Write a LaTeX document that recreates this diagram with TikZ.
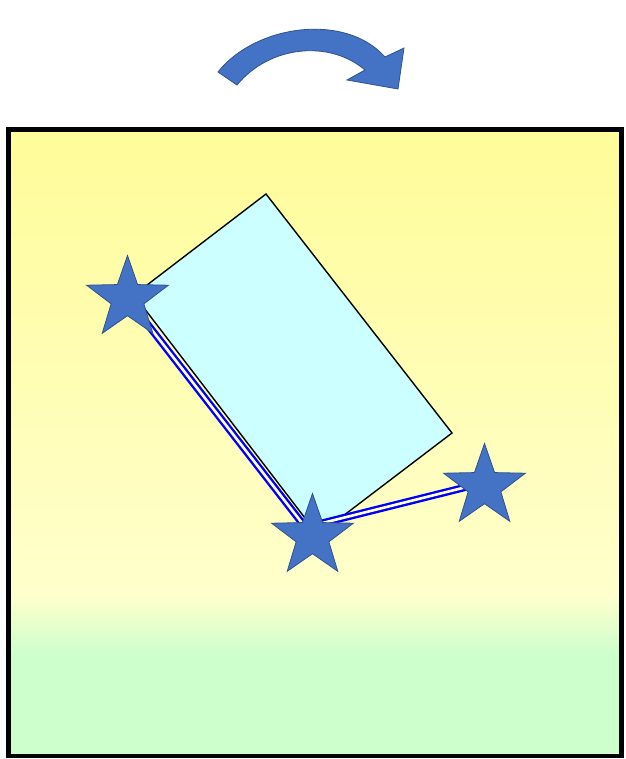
\documentclass[tikz,border=0pt]{standalone}
\usetikzlibrary{shapes.geometric}
\definecolor{starblue}{HTML}{4472C4}
\definecolor{stardark}{HTML}{2F528F}
\definecolor{bgyellow}{HTML}{FFFC99}
\definecolor{bglight}{HTML}{FFFFCC}
\definecolor{bggreen}{HTML}{CCFFCC}
\definecolor{boxcyan}{HTML}{CCFFFF}
\definecolor{linkblue}{HTML}{0000FF}
\begin{document}
\begin{tikzpicture}[x=1pt,y=-1pt,
  starnode/.style={star, star points=5, star point ratio=2.5, minimum size=86pt, inner sep=0pt, fill=starblue, draw=stardark, line width=0.8pt},
  link/.style={draw=linkblue, line width=2.4pt, double=bglight, double distance=2.6pt},
  boxshape/.style={fill=boxcyan, draw=black, line width=1.4pt, line join=miter},
  arrowshape/.style={fill=starblue, draw=stardark, line width=0.8pt}]
\useasboundingbox (0,0) rectangle (625,759);
% background gradient
\shade[top color=bgyellow, bottom color=bglight] (8.5,129.5) rectangle (621.5,595);
\shade[top color=bglight, bottom color=bggreen] (8.5,594.5) rectangle (621.5,655);
\fill[bggreen] (8.5,654.5) rectangle (621.5,756);
\draw[line width=4.5pt] (8.5,129.5) rectangle (621.5,756);
% curved arrow
\path[arrowshape] (218,72) .. controls (255,25) and (345,12) .. (385,57)
  -- (404,48) -- (398,89) -- (347,80) -- (365,70)
  .. controls (330,40) and (270,45) .. (237,85) -- cycle;
% rotated box
\coordinate (bt) at (266,194);
\coordinate (br) at (452,433);
\coordinate (bb) at (318,535);
\coordinate (bl) at (134,295);
\path[boxshape] (bt) -- (br) -- (bb) -- (bl) -- cycle;
% stars (positions)
\path (127.5,298.5) coordinate (c1) (312.5,536.5) coordinate (c2) (484.5,486.5) coordinate (c3);
% links
\draw[link] (c1) -- (c2);
\draw[link] ([yshift=11pt]c2) -- ([yshift=4pt]c3);
% stars
\node[starnode] (s1) at (c1) {};
\node[starnode] (s2) at (c2) {};
\node[starnode] (s3) at (c3) {};
\end{tikzpicture}
\end{document}
